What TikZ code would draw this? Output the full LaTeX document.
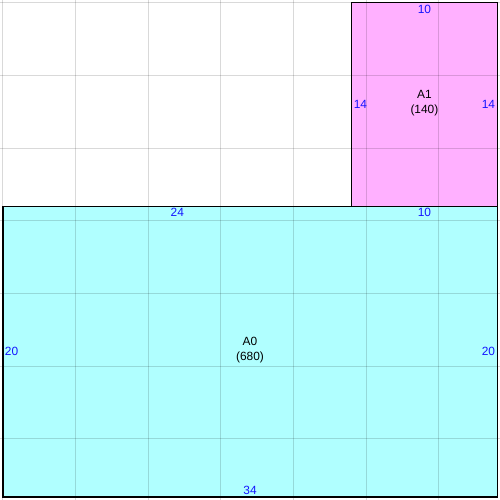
\documentclass[tikz,border=0pt]{standalone}
\usepackage{fontspec}
\setmainfont{Liberation Sans}
\usetikzlibrary{positioning}
\definecolor{areacyan}{RGB}{176,255,255}
\definecolor{areapink}{RGB}{255,176,255}
\definecolor{dimblue}{RGB}{20,20,255}

\begin{document}
\begin{tikzpicture}[x=0.3cm,y=0.3cm,
  room/.style={draw=black,line width=0.7pt},
  gridline/.style={draw=black,opacity=0.15,line width=0.6pt},
  dimlabel/.style={text=dimblue,font=\fontsize{7}{8}\selectfont,inner sep=1pt},
  namelabel/.style={align=center,font=\fontsize{7}{8.5}\selectfont,inner sep=0pt}]
  \useasboundingbox (-0.2,-0.2) rectangle (34.2,34.2);
  \clip (-0.2,-0.2) rectangle (34.2,34.2);
  \coordinate (a0sw) at (0,0);
  \coordinate (a0ne) at (34,20);
  \coordinate (a1sw) at (24,20);
  \coordinate (a1ne) at (34,34);
  \fill[areacyan] (a0sw) rectangle (a0ne);
  \fill[areapink] (a1sw) rectangle (a1ne);
  \foreach \x in {0,5,...,30}
    \draw[gridline] (\x,-1) -- (\x,35);
  \foreach \y in {4,9,...,34}
    \draw[gridline] (-1,\y) -- (35,\y);
  \draw[room] (a0sw) rectangle (a0ne);
  \draw[room] (a1sw) rectangle (a1ne);
  % A1
  \node[dimlabel,anchor=north] (a1top) at (29,34) {10};
  \node[dimlabel,anchor=west] (a1left) at (24,27) {14};
  \node[dimlabel,anchor=east] (a1right) at (34,27) {14};
  \node[namelabel] (a1) at (29,27.1) {A1\\(140)};
  % A0
  \node[dimlabel,anchor=north] (a0top) at (12,20) {24};
  \node[dimlabel,anchor=north] (a0topb) at (29,20) {10};
  \node[dimlabel,anchor=west] (a0left) at (0,10) {20};
  \node[dimlabel,anchor=east] (a0right) at (34,10) {20};
  \node[dimlabel,anchor=south] (a0bottom) at (17,0) {34};
  \node[namelabel] (a0) at (17,10.1) {A0\\(680)};
\end{tikzpicture}
\end{document}
